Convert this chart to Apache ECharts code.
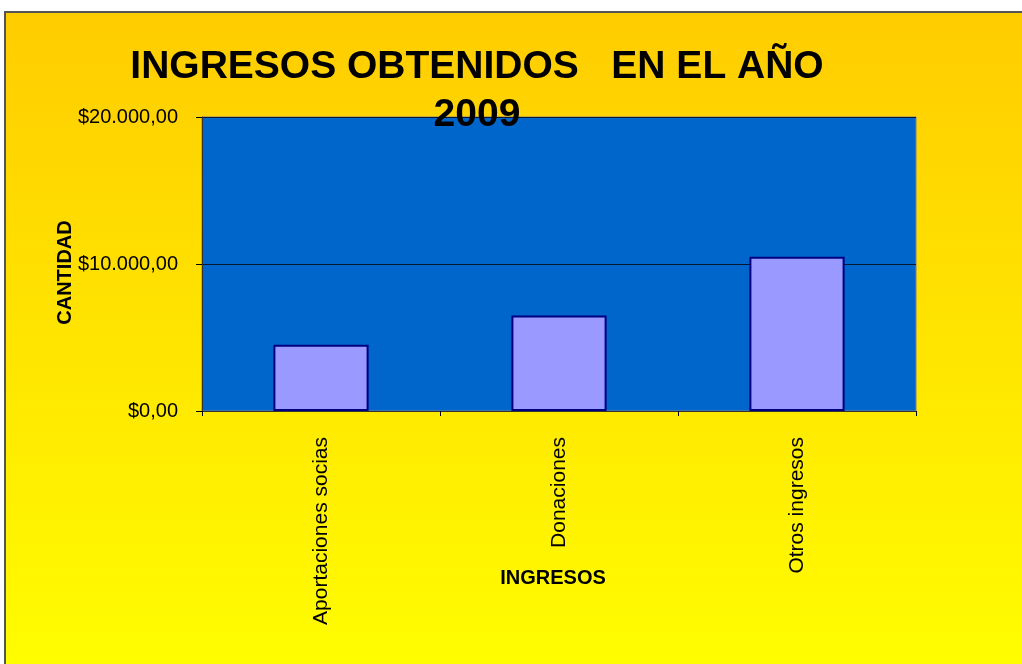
<!DOCTYPE html>
<html>
<head>
<meta charset="utf-8">
<script src="https://cdn.jsdelivr.net/npm/echarts@6/dist/echarts.min.js"></script>
<style>
    html, body { margin: 0; padding: 0; background: #ffffff; }
    #chart { width: 1022px; height: 664px; }
</style>
</head>
<body>
<div id="chart"></div>
<script>
// categorias del eje x
var categorias = ["Aportaciones socias", "Donaciones", "Otros ingresos"];
// ingresos por categoria
var ingresos = [4500, 6500, 10500];
// marcas del eje y
var marcasY = [0, 10000, 20000];

function formatoPesos(v) {
    var entero = String(Math.round(v)).replace(/\B(?=(\d{3})+(?!\d))/g, ".");
    return "$" + entero + ",00";
}

var dom = echarts.init(document.getElementById("chart"));
var option = {
    backgroundColor: "#ffffff",
    animation: false,
    graphic: [{
        type: "rect",
        z: -10,
        silent: true,
        shape: {x: 5, y: 12, width: 1040, height: 680},
        style: {
            fill: new echarts.graphic.LinearGradient(0, 0, 0, 1, [
                {offset: 0, color: "#FFCC00"},
                {offset: 1, color: "#FFFF00"}
            ]),
            stroke: "#555555",
            lineWidth: 2
        }
    }],
    title: {
        text: "INGRESOS OBTENIDOS   EN EL AÑO\n2009",
        left: 472,
        top: 38,
        textAlign: "center",
        textStyle: {
            fontFamily: "Liberation Sans",
            fontWeight: "bold",
            fontSize: 39,
            lineHeight: 48,
            color: "#000000"
        }
    },
    grid: {
        left: 202,
        top: 117,
        width: 714,
        height: 294,
        show: true,
        backgroundColor: "#0066CC",
        borderColor: "#808080",
        borderWidth: 1
    },
    xAxis: {
        type: "category",
        data: categorias,
        name: "INGRESOS",
        nameLocation: "middle",
        nameGap: 157,
        nameMoveOverlap: false,
        nameTextStyle: {
            fontFamily: "Liberation Sans",
            fontWeight: "bold",
            fontSize: 20,
            color: "#000000",
            padding: [0, 12, 0, 0]
        },
        axisLine: {lineStyle: {color: "#333333", width: 1}},
        axisTick: {show: true, length: 5, lineStyle: {color: "#000000"}},
        axisLabel: {
            rotate: 90,
            margin: 26,
            fontFamily: "Liberation Sans",
            fontSize: 21,
            color: "#000000"
        }
    },
    yAxis: {
        type: "value",
        min: marcasY[0],
        max: marcasY[marcasY.length - 1],
        interval: marcasY[1] - marcasY[0],
        name: "CANTIDAD",
        nameLocation: "middle",
        nameRotate: 90,
        nameGap: 127,
        nameMoveOverlap: false,
        nameTextStyle: {
            fontFamily: "Liberation Sans",
            fontWeight: "bold",
            fontSize: 20,
            color: "#000000",
            padding: [0, 17, 0, 0]
        },
        axisLine: {show: true, lineStyle: {color: "#333333", width: 1}},
        axisTick: {show: true, length: 6, lineStyle: {color: "#000000"}},
        axisLabel: {
            margin: 24,
            fontFamily: "Liberation Sans",
            fontSize: 20,
            color: "#000000",
            formatter: formatoPesos
        },
        splitLine: {show: true, lineStyle: {color: "#0a1530", width: 1}}
    },
    series: [{
        type: "bar",
        data: ingresos,
        barWidth: "40%",
        itemStyle: {
            color: "#9999FF",
            borderColor: "#000080",
            borderWidth: 2
        }
    }]
};
dom.setOption(option);
</script>
</body>
</html>
